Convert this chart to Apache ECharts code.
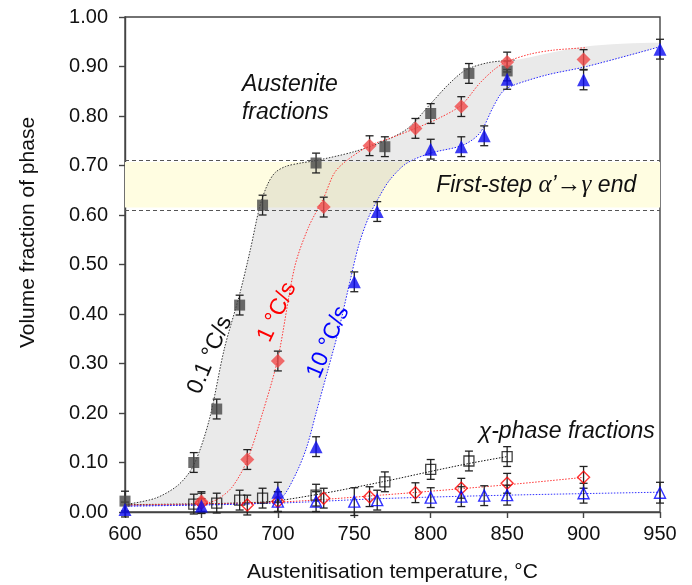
<!DOCTYPE html>
<html><head><meta charset="utf-8">
<script src="https://cdn.jsdelivr.net/npm/echarts@6/dist/echarts.min.js"></script>
<style>html,body{margin:0;padding:0;background:#fff}#c{width:692px;height:585px}</style>
</head><body><div id="c"></div>
<script>
// ---- austenite fractions (filled markers) ----
const tempSlow = [600, 645, 660, 675, 690, 725, 770, 800, 825, 850];
const austSlow = [0.022, 0.100, 0.208, 0.418, 0.620, 0.705, 0.738, 0.805, 0.886, 0.891];
const errSlow  = [0.02, 0.02, 0.02, 0.02, 0.02, 0.02, 0.02, 0.02, 0.02, 0.02];
const tempMid  = [650, 680, 700, 730, 760, 790, 820, 850, 900];
const austMid  = [0.021, 0.106, 0.305, 0.616, 0.740, 0.775, 0.819, 0.909, 0.914];
const errMid   = [0.02, 0.02, 0.02, 0.02, 0.02, 0.02, 0.02, 0.02, 0.02];
const tempFast = [600, 650, 700, 725, 750, 765, 800, 820, 835, 850, 900, 950];
const austFast = [0.005, 0.012, 0.040, 0.132, 0.465, 0.607, 0.733, 0.738, 0.760, 0.874, 0.873, 0.935];
const errFast  = [0.015, 0.015, 0.02, 0.02, 0.02, 0.02, 0.02, 0.02, 0.02, 0.02, 0.02, 0.02];
// ---- chi-phase fractions (open markers) ----
const chiTempSlow = [645, 660, 675, 690, 725, 770, 800, 825, 850];
const chiSlow     = [0.016, 0.018, 0.024, 0.028, 0.034, 0.061, 0.086, 0.103, 0.112];
const chiErrSlow  = [0.02, 0.02, 0.02, 0.02, 0.022, 0.02, 0.02, 0.02, 0.02];
const chiTempMid  = [650, 680, 700, 730, 760, 790, 820, 850, 900];
const chiMid      = [0.018, 0.014, 0.021, 0.028, 0.031, 0.039, 0.048, 0.058, 0.070];
const chiErrMid   = [0.02, 0.02, 0.02, 0.02, 0.02, 0.02, 0.02, 0.02, 0.022];
const chiTempFast = [700, 725, 750, 765, 800, 820, 835, 850, 900, 950];
const chiFast     = [0.021, 0.021, 0.021, 0.024, 0.029, 0.031, 0.033, 0.034, 0.038, 0.039];
const chiErrFast  = [0.02, 0.02, 0.028, 0.02, 0.02, 0.02, 0.02, 0.02, 0.02, 0.021];
// ---- fitted curves ----
const fitSlowT = [600, 620, 635, 645, 655, 665, 675, 682, 688, 693, 698, 705, 715, 725, 750, 770, 785, 800, 812, 823, 838, 855];
const fitSlowV = [0.015, 0.028, 0.055, 0.095, 0.185, 0.33, 0.44, 0.53, 0.615, 0.66, 0.685, 0.698, 0.705, 0.71, 0.728, 0.75, 0.775, 0.825, 0.865, 0.893, 0.908, 0.913];
const fitMidT  = [600, 650, 660, 670, 680, 690, 700, 711, 720, 730, 737, 745, 760, 775, 790, 805, 820, 832, 842, 850, 865, 880, 902];
const fitMidV  = [0.014, 0.016, 0.025, 0.05, 0.105, 0.2, 0.31, 0.495, 0.575, 0.635, 0.685, 0.71, 0.74, 0.757, 0.775, 0.795, 0.822, 0.866, 0.895, 0.91, 0.925, 0.933, 0.938];
const fitFastT = [600, 650, 690, 700, 705, 713, 719, 725, 733, 740, 746, 753, 760, 766, 773, 784, 800, 821, 832, 841, 847, 854, 876, 902, 950];
const fitFastV = [0.012, 0.014, 0.018, 0.024, 0.038, 0.085, 0.132, 0.2, 0.29, 0.37, 0.45, 0.54, 0.6, 0.635, 0.67, 0.704, 0.725, 0.741, 0.765, 0.819, 0.849, 0.862, 0.883, 0.9, 0.94];
const shadeTailT = [900, 950];
const shadeTailV = [0.94, 0.948];
const chiFitSlowT = [600, 690, 725, 770, 800, 825, 850];
const chiFitSlowV = [0.015, 0.02, 0.035, 0.062, 0.082, 0.098, 0.112];
const chiFitMidT  = [600, 700, 767, 850, 900];
const chiFitMidV  = [0.014, 0.02, 0.034, 0.055, 0.07];
const chiFitFastT = [600, 700, 767, 850, 950];
const chiFitFastV = [0.012, 0.018, 0.027, 0.034, 0.04];
// ---- band, axes ----
const bandLow = 0.615, bandHigh = 0.707;
const xTicks = [600, 950, 50];
const yTicks = [0, 1, 0.1];

const FONT = "'Liberation Sans', Arial, sans-serif";
const SERIF = "'Liberation Serif', 'DejaVu Serif', serif";
const zip = (a, b) => a.map((v, i) => [v, b[i]]);
const errData = (t, v, e) => t.map((x, i) => [x, v[i] - e[i], v[i] + e[i]]);

const errSeries = (t, v, e) => ({
  type: 'custom', z: 3, silent: true,
  encode: { x: 0, y: [1, 2] },
  data: errData(t, v, e),
  renderItem: (params, api) => {
    const x = api.value(0);
    const a = api.coord([x, api.value(1)]), b = api.coord([x, api.value(2)]);
    const w = 4, st = { stroke: '#222', lineWidth: 1.3 };
    return { type: 'group', children: [
      { type: 'line', shape: { x1: a[0], y1: a[1], x2: b[0], y2: b[1] }, style: st },
      { type: 'line', shape: { x1: a[0] - w, y1: a[1], x2: a[0] + w, y2: a[1] }, style: st },
      { type: 'line', shape: { x1: b[0] - w, y1: b[1], x2: b[0] + w, y2: b[1] }, style: st }
    ]};
  }
});
const fitLine = (t, v, color, z) => ({
  type: 'line', data: zip(t, v), smooth: 0.3, symbol: 'none', z: z || 2, silent: true,
  lineStyle: { color: color, width: 1, type: [1.5, 1.5] }
});

const shadePts = zip(fitSlowT, fitSlowV).concat(zip(shadeTailT, shadeTailV)).concat(zip(fitFastT, fitFastV).reverse());

const chart = echarts.init(document.getElementById('c'), null, { renderer: 'canvas' });
chart.setOption({
  animation: false,
  grid: { left: 125, right: 32, top: 17, bottom: 73, outerBoundsMode: 'none', containLabel: false,
    show: true, borderColor: '#444', borderWidth: 1.4, backgroundColor: 'transparent' },
  xAxis: {
    type: 'value', min: xTicks[0], max: xTicks[1], interval: xTicks[2],
    name: 'Austenitisation temperature, °C', nameLocation: 'middle', nameGap: 50,
    nameTextStyle: { fontFamily: FONT, fontSize: 21, color: '#111' },
    axisLine: { lineStyle: { color: '#444', width: 1.4 } },
    axisTick: { inside: false, length: 6, lineStyle: { color: '#444', width: 1.4 } },
    axisLabel: { fontFamily: FONT, fontSize: 20, color: '#111', margin: 12 },
    splitLine: { show: false }
  },
  yAxis: {
    type: 'value', min: yTicks[0], max: yTicks[1], interval: yTicks[2],
    name: 'Volume fraction of phase', nameLocation: 'middle', nameGap: 86,
    nameTextStyle: { fontFamily: FONT, fontSize: 21, color: '#111', padding: [0, 0, 0, 64] },
    axisLine: { lineStyle: { color: '#444', width: 1.4 } },
    axisTick: { inside: false, length: 6, lineStyle: { color: '#444', width: 1.4 } },
    axisLabel: { fontFamily: FONT, fontSize: 20, color: '#111', margin: 17, formatter: v => v.toFixed(2) },
    splitLine: { show: false }
  },
  series: [
    { // band + dashed edges
      type: 'line', data: [], silent: true, z: 1,
      markArea: { silent: true, itemStyle: { color: '#fffde1' }, data: [[{ yAxis: bandLow }, { yAxis: bandHigh }]] },
      markLine: { silent: true, symbol: 'none', label: { show: false },
        lineStyle: { color: '#555', width: 1.2, type: [4, 3] },
        data: [{ yAxis: bandLow }, { yAxis: bandHigh }] }
    },
    { // grey shaded region between fastest and slowest fits
      type: 'custom', z: 1, silent: true, clip: true,
      data: shadePts, encode: { x: 0, y: 1 },
      renderItem: (params, api) => {
        if (params.dataIndex !== 0) return null;
        const pts = shadePts.map(p => api.coord(p));
        return { type: 'polygon', shape: { points: pts, smooth: 0.3 },
          style: { fill: 'rgba(150,150,150,0.2)', stroke: 'none' } };
      }
    },
    fitLine(fitSlowT, fitSlowV, '#333'),
    fitLine(fitMidT, fitMidV, '#ff3333'),
    fitLine(fitFastT, fitFastV, '#2222ff'),
    fitLine(chiFitSlowT, chiFitSlowV, '#111'),
    fitLine(chiFitMidT, chiFitMidV, '#ff3333'),
    fitLine(chiFitFastT, chiFitFastV, '#3333ff'),
    errSeries(chiTempSlow, chiSlow, chiErrSlow),
    errSeries(chiTempMid, chiMid, chiErrMid),
    errSeries(chiTempFast, chiFast, chiErrFast),
    errSeries(tempSlow, austSlow, errSlow),
    errSeries(tempMid, austMid, errMid),
    errSeries(tempFast, austFast, errFast),
    { name: 'χ 0.1 °C/s', type: 'scatter', z: 4, symbol: 'rect', symbolSize: 10, data: zip(chiTempSlow, chiSlow),
      itemStyle: { color: 'transparent', borderColor: '#111', borderWidth: 1.3 } },
    { name: 'χ 1 °C/s', type: 'scatter', z: 4, symbol: 'diamond', symbolSize: 12, data: zip(chiTempMid, chiMid),
      itemStyle: { color: 'transparent', borderColor: '#ff0000', borderWidth: 1.4 } },
    { name: 'χ 10 °C/s', type: 'scatter', z: 4, symbol: 'triangle', symbolSize: 11, data: zip(chiTempFast, chiFast),
      itemStyle: { color: 'transparent', borderColor: '#0000ff', borderWidth: 1.4 } },
    { name: 'γ 0.1 °C/s', type: 'scatter', z: 5, symbol: 'rect', symbolSize: 11, data: zip(tempSlow, austSlow),
      itemStyle: { color: '#474747' } },
    { name: 'γ 1 °C/s', type: 'scatter', z: 5, symbol: 'diamond', symbolSize: 14, data: zip(tempMid, austMid),
      itemStyle: { color: '#f04848' } },
    { name: 'γ 10 °C/s', type: 'scatter', z: 5, symbol: 'triangle', symbolSize: 13, data: zip(tempFast, austFast),
      itemStyle: { color: '#0a0af0' } }
  ]
});

// annotations anchored to data coordinates
const P = (x, y) => chart.convertToPixel({ gridIndex: 0 }, [x, y]);
const ann = (txt, x, y, color, rotDeg, align, style) => {
  const p = P(x, y);
  return { type: 'text', x: p[0], y: p[1], rotation: (rotDeg || 0) * Math.PI / 180, z: 10, silent: true,
    style: { text: txt, fill: color, font: (style || 'italic') + ' 23px ' + FONT, align: align || 'center', verticalAlign: 'middle', lineHeight: 28 } };
};
const bandLabel = (() => {
  const p = P(869, 0.66);
  return { type: 'text', x: p[0], y: p[1], z: 10, silent: true,
    style: {
      text: 'First-step {g|α}’{a|→}{g|γ} end',
      font: 'italic 23px ' + FONT, fill: '#111', align: 'center', verticalAlign: 'middle',
      rich: {
        g: { fontFamily: SERIF, fontStyle: 'italic', fontSize: 25, fill: '#111' },
        a: { fontFamily: SERIF, fontStyle: 'normal', fontSize: 25, fill: '#111' }
      }
    } };
})();
chart.setOption({ graphic: [
  ann('Austenite\nfractions', 676.5, 0.836, '#111', 0, 'left'),
  bandLabel,
  ann('χ-phase fractions', 889, 0.162, '#111'),
  ann('0.1 °C/s', 655.5, 0.317, '#111', 67, 'center', 'normal'),
  ann('1 °C/s', 699.5, 0.404, '#ff0000', 65, 'center', 'normal'),
  ann('10 °C/s', 733, 0.343, '#0000ff', 67, 'center', 'normal')
]});
</script></body></html>
